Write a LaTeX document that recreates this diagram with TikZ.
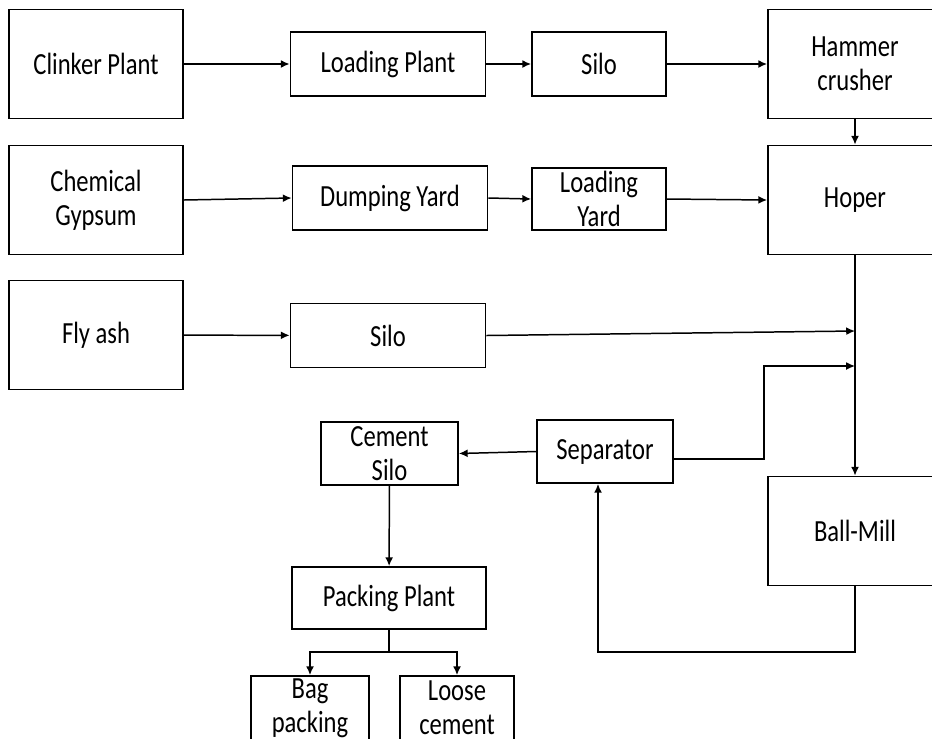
\documentclass[tikz,border=0pt]{standalone}
\usepackage{fontspec}
\setmainfont[FakeStretch=0.8]{Carlito}
\usetikzlibrary{arrows.meta}
\tikzset{
  block/.style={draw, line width=1pt, inner sep=0pt, align=center,
    font=\fontsize{17.5}{19.5}\selectfont},
  bigbox/.style={block, minimum width=3.48cm, minimum height=2.18cm},
  midbox/.style={block, minimum width=3.9cm, minimum height=1.28cm},
  smallbox/.style={block, minimum width=2.68cm, minimum height=1.26cm},
  flow/.style={line width=0.85pt, -{Latex[length=5pt,width=4.5pt]}},
  link/.style={line width=0.85pt}
}
\begin{document}
\begin{tikzpicture}[x=0.02cm, y=-0.02cm]
\useasboundingbox (0,0) rectangle (932,738);
\clip (0,0) rectangle (932,738);
\fill[white] (0,0) rectangle (932,738);
% first row
\node[bigbox] (clinker) at (96,64) {Clinker Plant};
\node[midbox] (loadplant) at (388,64) {Loading Plant};
\node[smallbox, minimum height=1.28cm] (silotop) at (599,64) {Silo};
\node[bigbox] (hammer) at (855,64) {Hammer\\crusher};
% second row
\node[bigbox] (gypsum) at (96,200) {Chemical\\Gypsum};
\node[midbox] (dumping) at (390,198) {Dumping Yard};
\node[smallbox, minimum height=1.24cm] (loadyard) at (599,199) {Loading\\Yard};
\node[bigbox] (hoper) at (855,200) {Hoper};
% third row
\node[bigbox] (flyash) at (96,335) {Fly ash};
\node[midbox] (silomid) at (388,335.5) {Silo};
% lower part
\node[smallbox, minimum width=2.72cm] (separator) at (605,451.5) {Separator};
\node[smallbox, minimum width=2.74cm] (cemsilo) at (389.5,453.5) {Cement\\Silo};
\node[midbox, minimum width=3.88cm, minimum height=1.24cm] (packing) at (389,598) {Packing Plant};
\node[bigbox] (ballmill) at (855,531) {Ball-Mill};
\node[smallbox, minimum width=2.36cm, minimum height=1.28cm] (bag) at (310,708) {Bag\\packing};
\node[smallbox, minimum width=2.28cm, minimum height=1.28cm] (loose) at (457,708) {Loose\\cement};
% connectors
\coordinate (join1) at (855,331);
\coordinate (join2) at (855,366);
\coordinate (split) at (389,652);
\coordinate (ret) at (855,652);
\draw[flow] (clinker) -- (loadplant);
\draw[flow] (loadplant) -- (silotop);
\draw[flow] (silotop) -- (hammer);
\draw[flow] (hammer) -- (hoper);
\draw[flow] (gypsum.east) -- (dumping.west);
\draw[flow] (dumping.east) -- (loadyard.west);
\draw[flow] (loadyard.east) -- (hoper.west);
\draw[flow] (flyash) -- (silomid);
\draw[flow] (hoper) -- (ballmill);
\draw[flow] (silomid.east) -- (join1);
\draw[flow] ([yshift=-0.15cm]separator.east) -| (764,366) -- (join2);
\draw[flow] (separator.west) -- (cemsilo.east);
\draw[flow] (cemsilo) -- (packing);
\draw[link] (packing) -- (split);
\draw[flow] (split) -| (bag.north);
\draw[flow] (split) -| (loose.north);
\draw[flow] (ballmill.south) -- (ret) -| ([xshift=-0.14cm]separator.south);
\end{tikzpicture}
\end{document}
